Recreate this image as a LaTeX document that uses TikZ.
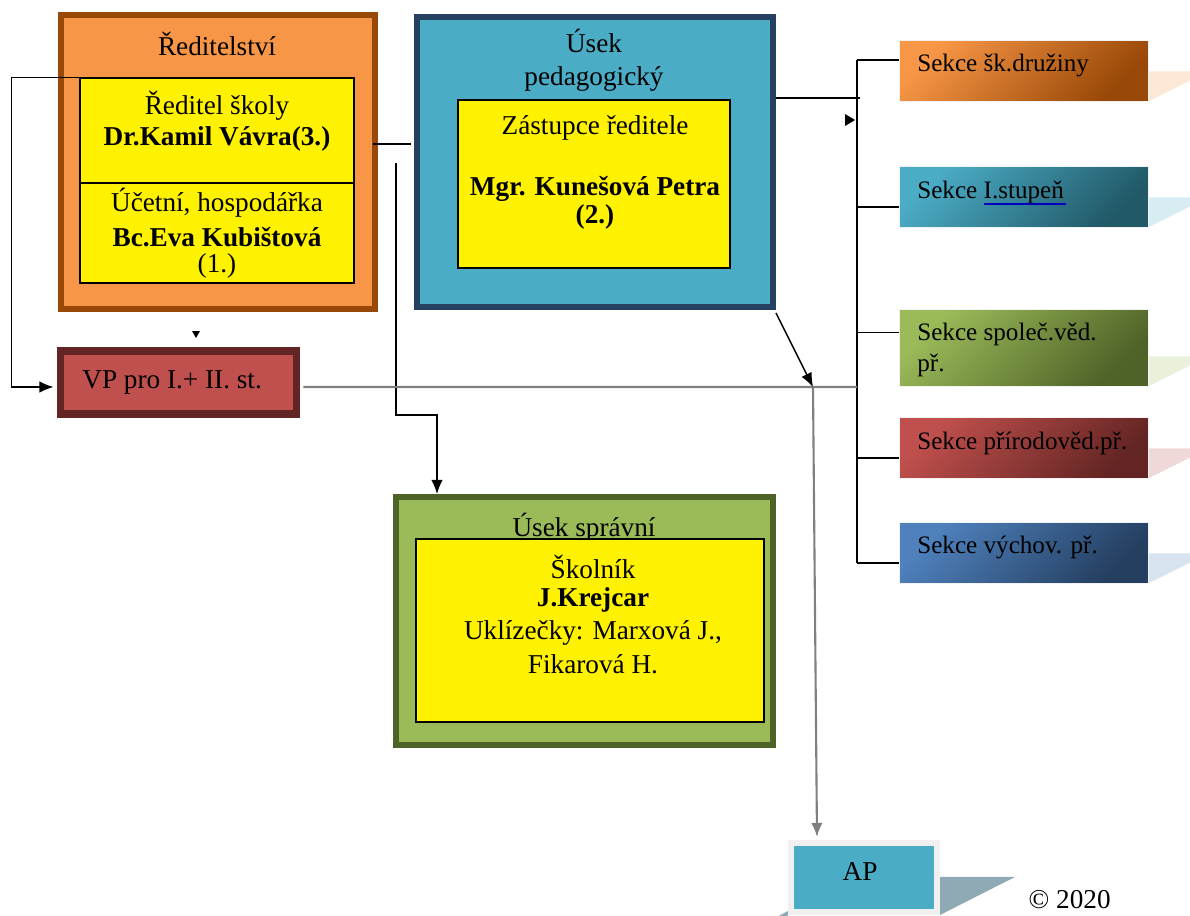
\documentclass[tikz,border=0pt]{standalone}
\usepackage{fontspec}
\setmainfont{Liberation Serif}
\usetikzlibrary{calc, arrows.meta, shadows}

\pgfdeclarelayer{background}
\pgfsetlayers{background,main}

\definecolor{oranz}{HTML}{F79646}
\definecolor{hneda}{HTML}{984807}
\definecolor{tyrkys}{HTML}{4BACC6}
\definecolor{tmtyrkys}{HTML}{215967}
\definecolor{namornicka}{HTML}{254061}
\definecolor{cervena}{HTML}{C0504D}
\definecolor{tmcervena}{HTML}{632523}
\definecolor{zelena}{HTML}{9BBB59}
\definecolor{tmzelena}{HTML}{4F6228}
\definecolor{modra}{HTML}{4F81BD}
\definecolor{tmmodra}{HTML}{243F60}
\definecolor{stinap}{HTML}{8FAAB3}

\tikzset{
  obal/.style={draw, line width=3.4pt, drop shadow={shadow xshift=1.5pt, shadow yshift=-1.5pt, opacity=0.25}},
  vnitr/.style={draw=black, fill=yellow, line width=0.7pt},
  sekce/.style={minimum width=4.98cm, minimum height=1.22cm, draw=black!5, line width=0.4pt, shading angle=45},
  spoj/.style={line width=0.8pt},
  sedy/.style={line width=1.2pt, draw=black!50},
  hrot/.style={-{Latex[length=8pt,width=6.5pt]}},
  txt/.style={font=\fontsize{15.5}{18}\selectfont, inner sep=0pt},
  btxt/.style={font=\fontsize{15.5}{18}\selectfont\bfseries, inner sep=0pt},
  stxt/.style={font=\fontsize{14.3}{17}\selectfont, anchor=west, inner sep=0pt},
}

\begin{document}
\begin{tikzpicture}[x=0.02cm, y=-0.02cm]
  \useasboundingbox (0,0) rectangle (1190,916);

  % reditelstvi
  \node[obal, fill=oranz, draw=hneda, minimum width=6.28cm, minimum height=5.88cm] (redit) at (218,162) {};
  \node[txt] (reditT) at (217,44) {Ředitelství};
  \node[vnitr, minimum width=5.48cm, minimum height=2.1cm] (reditel) at (217,130.5) {};
  \node[vnitr, minimum width=5.48cm, minimum height=2.0cm] (ucetni) at (217,233) {};
  \node[txt] (reditelT) at (217,106) {Ředitel školy};
  \node[btxt] (vavra) at (217,139) {Dr.Kamil Vávra(3.)};
  \node[txt] (ucetniT) at (217,203) {Účetní, hospodářka};
  \node[btxt] (kubis) at (217,237) {Bc.Eva Kubištová};
  \node[txt] (kubisC) at (217,266) {(1.)};

  % usek pedagogicky
  \node[obal, fill=tyrkys, draw=namornicka, minimum width=7.12cm, minimum height=5.8cm] (ped) at (595,162) {};
  \node[txt, align=center] (pedT) at (594,60) {Úsek\\[1pt]pedagogický};
  \node[vnitr, minimum width=5.44cm, minimum height=3.36cm] (zast) at (594,184) {};
  \node[txt] (zastT) at (595,128) {Zástupce ředitele};
  \node[btxt] (kunes) at (595,189) {Mgr. Kunešová Petra};
  \node[btxt] (kunesC) at (595,217) {(2.)};

  % vp
  \node[obal, fill=cervena, draw=tmcervena, line width=4pt, minimum width=4.74cm, minimum height=1.26cm] (vp) at (178.5,382.5) {};
  \node[txt, anchor=west] (vpT) at (82,382) {VP pro I.+ II. st.};

  % usek spravni
  \node[obal, fill=zelena, draw=tmzelena, minimum width=7.54cm, minimum height=4.96cm] (spr) at (584.5,621) {};
  \node[txt] (sprT) at (584,528) {Úsek správní};
  \node[vnitr, minimum width=6.96cm, minimum height=3.66cm] (skol) at (590,630.5) {};
  \node[txt] (skolT) at (593,567) {Školník};
  \node[btxt] (krejcar) at (593,600) {J.Krejcar};
  \node[txt] (uklid) at (593,633) {Uklízečky: Marxová J.,};
  \node[txt] (fikar) at (593,664) {Fikarová H.};

  % sekce
  \node[sekce, top color=oranz, bottom color=hneda, shading angle=45] (druz) at (1023.5,70.5) {};
  \node[sekce, top color=tyrkys, bottom color=tmtyrkys, shading angle=45] (stup) at (1023.5,196.5) {};
  \node[sekce, top color=zelena, bottom color=tmzelena, shading angle=45, minimum height=1.54cm] (spol) at (1023.5,347.5) {};
  \node[sekce, top color=cervena, bottom color=tmcervena, shading angle=45] (prir) at (1023.5,447.5) {};
  \node[sekce, top color=modra, bottom color=tmmodra, shading angle=45] (vych) at (1023.5,552.5) {};
  \node[stxt] (druzT) at (917,65) {Sekce šk.družiny};
  \node[stxt] (stupT) at (917,192) {Sekce I.stupeň};
  \node[stxt, align=left] (spolT) at (917,350) {Sekce společ.věd.\\[1pt]př.};
  \node[stxt] (prirT) at (917,443) {Sekce přírodověd.př.};
  \node[stxt] (vychT) at (917,547) {Sekce výchov. př.};
  \draw[blue!75!black, line width=0.7pt] (984,204) -- (1066,204);

  % ap
  \node[draw=black!6, line width=3.4pt, fill=tyrkys, minimum width=2.92cm, minimum height=1.38cm] (ap) at (864,877.5) {};
  \node[txt] (apT) at (860,871) {AP};
  \node[txt, anchor=east] (copy) at (1111,900) {© 2020};

  \begin{pgfonlayer}{background}
    \foreach \s/\c in {druz/oranz, stup/tyrkys, spol/zelena, prir/cervena, vych/modra}
      \fill[\c!22] (\s.south east) ++(0,-30) -- ++(42,0) -- ++(0,9) -- (\s.south east) -- cycle;
    \fill[stinap] (ap.south east) ++(0,-38) -- ++(75,0) -- (ap.south east) -- cycle;
    \fill[stinap] (ap.south west) ++(-15,4) -- ++(15,-8) -- ++(0,8) -- cycle;
  \end{pgfonlayer}

  % spoje
  \coordinate (kmen) at (857,0);
  \coordinate (uzel) at (813,387);
  \foreach \s/\f in {druz/0.33, stup/0.67, spol/0.31, prir/0.67, vych/0.67} {
    \coordinate (b-\s) at ($(\s.north west)!\f!(\s.south west)$);
    \draw[spoj] (b-\s) -- (b-\s -| kmen);
  }
  \draw[spoj] (b-druz -| kmen) -- (b-vych -| kmen);
  \draw[spoj] ($(ped.north east)+(0,84)$) -- ++(84,0);

  \draw[spoj, hrot] (reditel.north west) -- ++(-68,0) |- ($(vp.west)+(-3,4.5)$);
  \draw[spoj] ($(redit.east)+(-5,-18)$) -- ($(ped.west)+(-3,-18)$);
  \draw[spoj, hrot] (396,163) |- (437,415) coordinate (lom) -- (lom |- spr.north);

  \draw[sedy] ($(vp.east)+(3,4.5)$) -- (uzel) -- (uzel -| kmen);
  \draw[spoj, hrot] ($(ped.south east)+(0,3)$) -- (uzel);
  \draw[sedy, hrot] (uzel) -- ($(ap.north)+(-47,-3)$);

  % male hroty
  \fill (192,331) -- (200,331) -- (196,338) -- cycle;
  \fill (845,114) -- (855,120) -- (845,126) -- cycle;
\end{tikzpicture}
\end{document}
